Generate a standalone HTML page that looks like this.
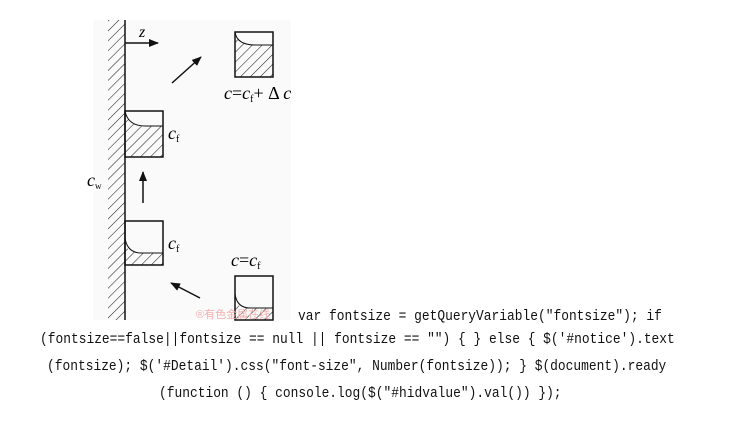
<!DOCTYPE html>
<html><head><meta charset="utf-8"><style>
html,body{margin:0;padding:0;background:#fff;width:730px;height:442px;overflow:hidden}
.code{position:absolute;font-family:"Liberation Mono",monospace;font-size:15px;color:#111;white-space:pre;transform-origin:left top;transform:scaleX(0.86)}
</style></head><body>
<svg width="730" height="442" style="position:absolute;left:0;top:0">
<defs>
<pattern id="h" width="7" height="7" patternUnits="userSpaceOnUse" patternTransform="rotate(45)">
<line x1="0" y1="0" x2="0" y2="7" stroke="#222" stroke-width="1.1"/>
</pattern>
<marker id="a" markerWidth="10" markerHeight="8" refX="9" refY="4" orient="auto" markerUnits="userSpaceOnUse">
<path d="M0,0 L10,4 L0,8 Z" fill="#111"/></marker>
</defs>
<rect x="93" y="20" width="198" height="300" fill="#fafafa"/>
<rect x="108" y="20" width="17" height="300" fill="url(#h)"/>
<line x1="125" y1="20" x2="125" y2="320" stroke="#111" stroke-width="1.5"/>
<line x1="125" y1="43" x2="158" y2="43" stroke="#111" stroke-width="1.5" marker-end="url(#a)"/>
<text x="139" y="37" font-family="Liberation Serif" font-style="italic" font-size="16">z</text>
<path d="M235,32 Q237,45 255,45 L273,45 L273,77 L235,77 Z" fill="url(#h)"/>
<rect x="235" y="32" width="38" height="45" fill="none" stroke="#111" stroke-width="1.5"/>
<path d="M235,32 Q237,45 255,45 L273,45" fill="none" stroke="#111" stroke-width="1"/>
<text x="224" y="99" font-family="Liberation Serif" font-size="18"><tspan font-style="italic">c</tspan>=<tspan font-style="italic">c</tspan><tspan font-size="10" dy="3">f</tspan><tspan dy="-3">+ Δ </tspan><tspan font-style="italic">c</tspan></text>
<line x1="172" y1="83" x2="201" y2="57" stroke="#111" stroke-width="1.5" marker-end="url(#a)"/>
<path d="M125,111 Q128,126 145,126 L163,126 L163,157 L125,157 Z" fill="url(#h)"/>
<rect x="125" y="111" width="38" height="46" fill="none" stroke="#111" stroke-width="1.5"/>
<path d="M125,111 Q128,126 145,126 L163,126" fill="none" stroke="#111" stroke-width="1"/>
<text x="168" y="139" font-family="Liberation Serif" font-size="18"><tspan font-style="italic">c</tspan><tspan font-size="10" dy="3">f</tspan></text>
<line x1="143" y1="203" x2="143" y2="172" stroke="#111" stroke-width="1.5" marker-end="url(#a)"/>
<text x="87" y="186" font-family="Liberation Serif" font-size="18"><tspan font-style="italic">c</tspan><tspan font-size="9" dy="3">w</tspan></text>
<path d="M125,244 Q127,252 140,253 L163,253 L163,265 L125,265 Z" fill="url(#h)"/>
<rect x="125" y="221" width="38" height="44" fill="none" stroke="#111" stroke-width="1.5"/>
<path d="M125,238 Q127,252 140,253 L163,253" fill="none" stroke="#111" stroke-width="1"/>
<text x="168" y="249" font-family="Liberation Serif" font-size="18"><tspan font-style="italic">c</tspan><tspan font-size="10" dy="3">f</tspan></text>
<line x1="200" y1="298" x2="171" y2="283" stroke="#111" stroke-width="1.5" marker-end="url(#a)"/>
<path d="M235,300 Q237,308 250,308 L273,308 L273,320 L235,320 Z" fill="url(#h)"/>
<rect x="235" y="276" width="38" height="44" fill="none" stroke="#111" stroke-width="1.5"/>
<path d="M235,294 Q237,308 250,308 L273,308" fill="none" stroke="#111" stroke-width="1"/>
<text x="231" y="266" font-family="Liberation Serif" font-size="18"><tspan font-style="italic">c</tspan>=<tspan font-style="italic">c</tspan><tspan font-size="10" dy="3">f</tspan></text>
<text x="196" y="318" font-family="Liberation Sans,Noto Sans CJK SC,sans-serif" font-size="11" fill="#f3b0b0">®有色金属在线</text>
</svg>
<div class="code" style="left:298px;top:308px">var fontsize = getQueryVariable("fontsize"); if</div>
<div class="code" style="left:40px;top:331px">(fontsize==false||fontsize == null || fontsize == "") { } else { $('#notice').text</div>
<div class="code" style="left:47px;top:358px">(fontsize); $('#Detail').css("font-size", Number(fontsize)); } $(document).ready</div>
<div class="code" style="left:159px;top:385px">(function () { console.log($("#hidvalue").val()) });</div>
</body></html>
